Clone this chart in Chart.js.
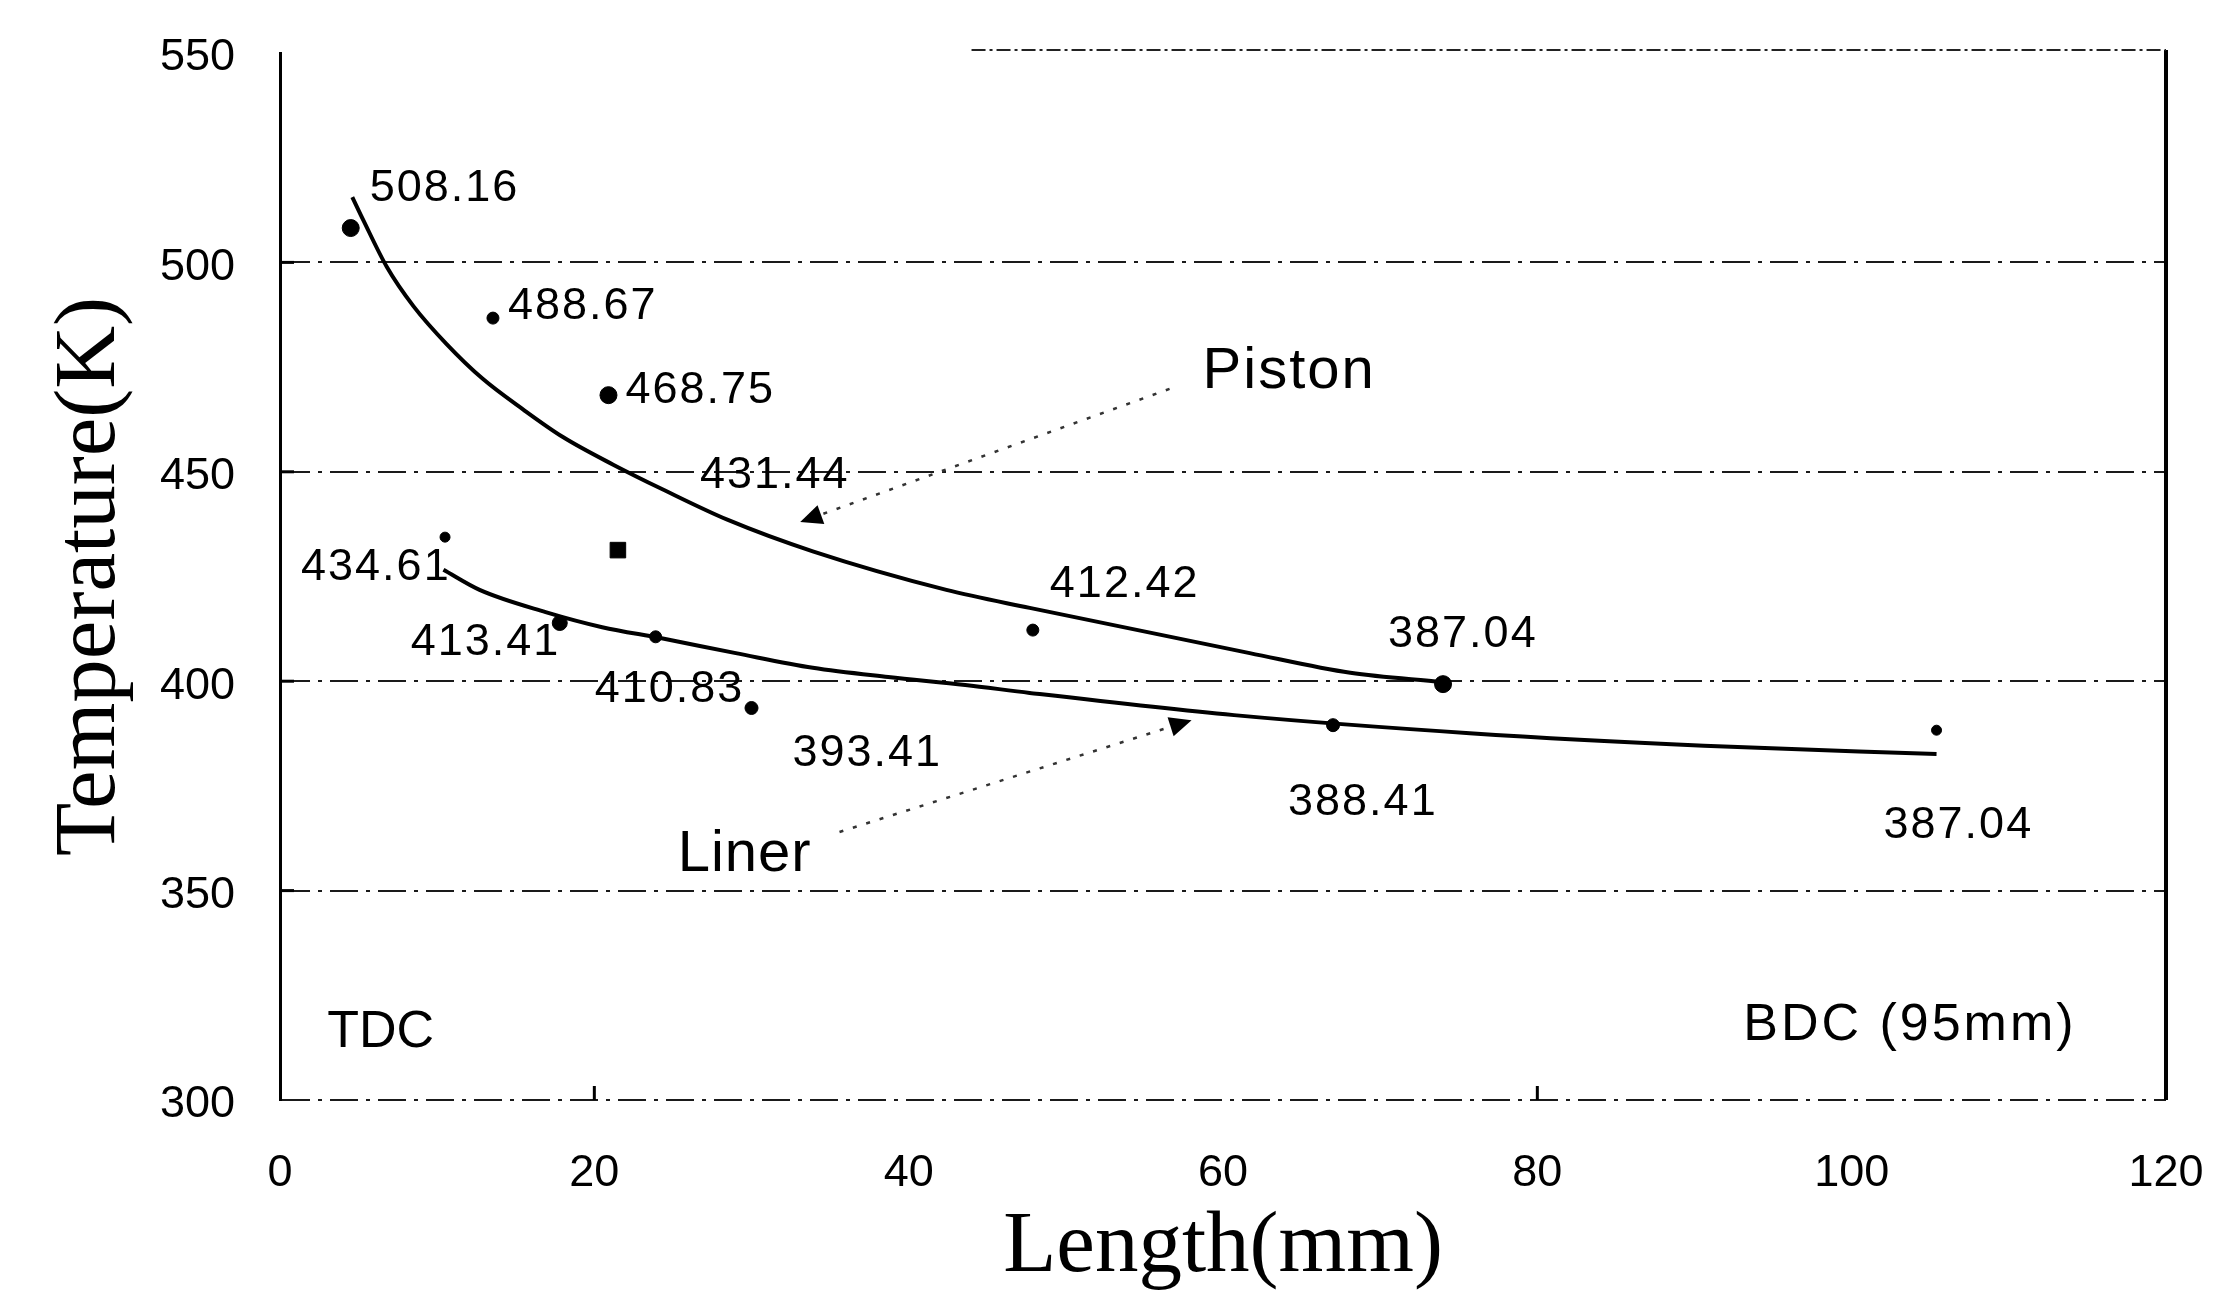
<!DOCTYPE html>
<html>
<head>
<meta charset="utf-8">
<script src="https://cdn.jsdelivr.net/npm/chart.js@4/dist/chart.umd.min.js"></script>
<style>
  html, body { margin: 0; padding: 0; background: #fff; overflow: hidden; }
  #wrap { width: 2229px; height: 1302px; position: relative; }
  canvas { display: block; }
</style>
</head>
<body>
<div id="wrap"><canvas id="c"></canvas></div>
<script>
// ---- data ----
const pistonLength = [4.5, 13.55, 20.9, 21.5, 47.9, 74.0];
const pistonTemp   = [508.2, 486.7, 468.3, 431.3, 412.2, 399.3];
const pistonLabels = ['508.16', '488.67', '468.75', '431.44', '412.42', '387.04'];

const linerLength = [10.5, 17.8, 23.9, 30.0, 67.0, 105.4];
const linerTemp   = [434.4, 413.9, 410.6, 393.6, 389.5, 388.3];
const linerLabels = ['434.61', '413.41', '410.83', '393.41', '388.41', '387.04'];

const pistonFitLength = [4.6, 5.3, 6.8, 8.5, 10.6, 12.9, 15.5, 18.0, 21.2, 24.4, 28.5, 33.9, 42.4, 47.7, 61.7, 68.1, 73.9];
const pistonFitTemp   = [515.6, 510.1, 498.9, 489.5, 480.5, 472.2, 464.8, 458.3, 451.7, 445.7, 438.5, 431.0, 421.8, 417.5, 406.7, 402.0, 399.8];

const linerFitLength = [10.4, 12.7, 16.9, 20.5, 24.2, 29.0, 33.9, 38.7, 43.6, 47.7, 60.7, 75.7, 90.6, 105.4];
const linerFitTemp   = [426.6, 421.8, 416.5, 412.9, 410.3, 406.7, 403.2, 401.0, 399.1, 397.2, 391.9, 387.6, 384.6, 382.6];

const xTickValues = [0, 20, 40, 60, 80, 100, 120];
const yTickValues = [300, 350, 400, 450, 500, 550];
const xSmallMarks = [20, 80];

// ---- styling / annotation config (not data) ----
const pistonLabelOffsets = [[19, -39], [15, -12], [17, -5], [82, -75], [17, -46], [-55, -50]];
const linerLabelOffsets  = [[-144, 30], [-149, 20], [-61, 53], [41, 46], [-45, 77], [-53, 95]];
const pistonRadius = [8.5, 6, 8.5, 11, 6, 8.5];
const pistonStyle  = ['circle', 'circle', 'circle', 'rect', 'circle', 'circle'];
const linerRadius  = [5, 7.5, 6, 6.5, 6.5, 5];

const arrows = [
  { from: [56.6, 469.8], to: [33.1, 438.0] },
  { from: [35.6, 364.0], to: [58.0, 390.7] }
];
const texts = [
  { text: 'Piston',      at: [58.7, 473.8], size: 58, spacing: 2 },
  { text: 'Liner',       at: [25.3, 358.5], size: 58, spacing: 1 },
  { text: 'TDC',         at: [3.0, 316.0],  size: 52, spacing: 0 },
  { text: 'BDC (95mm)',  at: [93.1, 317.7], size: 52, spacing: 3 }
];

const toXY = (xs, ys) => xs.map((v, i) => ({ x: v, y: ys[i] }));

const overlay = {
  id: 'overlay',
  afterDraw(chart) {
    const { ctx, chartArea: a } = chart;
    const x = chart.scales.x, y = chart.scales.y;
    ctx.save();
    // right border
    ctx.strokeStyle = '#000';
    ctx.lineWidth = 4;
    ctx.setLineDash([]);
    ctx.beginPath();
    ctx.moveTo(a.right, a.top - 3);
    ctx.lineTo(a.right, a.bottom);
    ctx.stroke();
    // partial top border
    ctx.lineWidth = 2;
    ctx.strokeStyle = '#222';
    ctx.setLineDash([14, 4, 3, 4]);
    ctx.beginPath();
    ctx.moveTo(x.getPixelForValue(44), a.top - 3);
    ctx.lineTo(a.right, a.top - 3);
    ctx.stroke();
    // short inner ticks on axes
    ctx.setLineDash([]);
    ctx.lineWidth = 3;
    ctx.strokeStyle = '#000';
    yTickValues.forEach(v => {
      if (v === 300 || v === 550) return;
      const py = y.getPixelForValue(v);
      ctx.beginPath(); ctx.moveTo(a.left, py); ctx.lineTo(a.left + 14, py); ctx.stroke();
    });
    xSmallMarks.forEach(v => {
      const px = x.getPixelForValue(v);
      ctx.beginPath(); ctx.moveTo(px, a.bottom); ctx.lineTo(px, a.bottom - 14); ctx.stroke();
    });
    // point labels
    ctx.fillStyle = '#000';
    ctx.textAlign = 'left';
    ctx.textBaseline = 'middle';
    ctx.font = '45px "Liberation Sans"';
    ctx.letterSpacing = '2px';
    chart.data.datasets.forEach((ds, i) => {
      if (!ds.pointLabels) return;
      const meta = chart.getDatasetMeta(i);
      meta.data.forEach((pt, j) => {
        const off = ds.pointLabelOffsets[j];
        ctx.fillText(ds.pointLabels[j], pt.x + off[0], pt.y + off[1]);
      });
    });
    // arrows
    arrows.forEach(ar => {
      const x1 = x.getPixelForValue(ar.from[0]), y1 = y.getPixelForValue(ar.from[1]);
      const x2 = x.getPixelForValue(ar.to[0]),   y2 = y.getPixelForValue(ar.to[1]);
      const ang = Math.atan2(y2 - y1, x2 - x1);
      ctx.strokeStyle = '#333';
      ctx.lineWidth = 2.5;
      ctx.setLineDash([4, 10]);
      ctx.beginPath();
      ctx.moveTo(x1, y1);
      ctx.lineTo(x2 - 18 * Math.cos(ang), y2 - 18 * Math.sin(ang));
      ctx.stroke();
      ctx.setLineDash([]);
      ctx.fillStyle = '#000';
      ctx.beginPath();
      ctx.moveTo(x2, y2);
      ctx.lineTo(x2 - 22 * Math.cos(ang) + 10 * Math.sin(ang), y2 - 22 * Math.sin(ang) - 10 * Math.cos(ang));
      ctx.lineTo(x2 - 22 * Math.cos(ang) - 10 * Math.sin(ang), y2 - 22 * Math.sin(ang) + 10 * Math.cos(ang));
      ctx.closePath();
      ctx.fill();
    });
    // free texts
    texts.forEach(t => {
      ctx.font = t.size + 'px "Liberation Sans"';
      ctx.letterSpacing = t.spacing + 'px';
      ctx.fillStyle = '#000';
      ctx.fillText(t.text, x.getPixelForValue(t.at[0]), y.getPixelForValue(t.at[1]));
    });
    ctx.restore();
  }
};

new Chart(document.getElementById('c'), {
  type: 'scatter',
  data: {
    datasets: [
      {
        label: 'Piston fit',
        data: toXY(pistonFitLength, pistonFitTemp),
        showLine: true,
        borderColor: '#000',
        borderWidth: 4,
        pointRadius: 0,
        cubicInterpolationMode: 'monotone'
      },
      {
        label: 'Liner fit',
        data: toXY(linerFitLength, linerFitTemp),
        showLine: true,
        borderColor: '#000',
        borderWidth: 4,
        pointRadius: 0,
        cubicInterpolationMode: 'monotone'
      },
      {
        label: 'Piston',
        data: toXY(pistonLength, pistonTemp),
        backgroundColor: '#000',
        borderColor: '#000',
        pointRadius: pistonRadius,
        pointStyle: pistonStyle,
        pointLabels: pistonLabels,
        pointLabelOffsets: pistonLabelOffsets
      },
      {
        label: 'Liner',
        data: toXY(linerLength, linerTemp),
        backgroundColor: '#000',
        borderColor: '#000',
        pointRadius: linerRadius,
        pointLabels: linerLabels,
        pointLabelOffsets: linerLabelOffsets
      }
    ]
  },
  options: {
    responsive: true,
    maintainAspectRatio: false,
    devicePixelRatio: 1,
    animation: false,
    layout: { padding: { top: 53, right: 63, bottom: 0, left: 0 } },
    plugins: {
      legend: { display: false },
      tooltip: { enabled: false }
    },
    scales: {
      x: {
        type: 'linear',
        position: 'bottom',
        min: 0,
        max: 120,
        afterBuildTicks: s => { s.ticks = xTickValues.map(v => ({ value: v })); },
        afterFit: s => { s.height = 202; s.paddingLeft = 0; s.paddingRight = 0; s.paddingTop = 0; s.paddingBottom = 0; },
        grid: { display: false, drawTicks: false },
        border: { display: false },
        ticks: {
          color: '#000',
          padding: 47,
          font: { family: 'Liberation Sans', size: 45 }
        },
        title: {
          display: true,
          text: 'Length(mm)',
          color: '#000',
          font: { family: 'Liberation Serif', size: 87, lineHeight: 1 },
          padding: { top: 0, bottom: 10 }
        }
      },
      y: {
        type: 'linear',
        min: 300,
        max: 550,
        afterBuildTicks: s => { s.ticks = yTickValues.map(v => ({ value: v })); },
        afterFit: s => { s.width = 280; s.paddingLeft = 0; s.paddingRight = 0; s.paddingTop = 0; s.paddingBottom = 0; },
        grid: {
          drawTicks: false,
          lineWidth: 2,
          color: c => (c.tick && c.tick.value === 550) ? 'rgba(0,0,0,0)' : '#1a1a1a'
        },
        border: { display: true, color: '#000', width: 3, dash: [28, 8, 4, 8] },
        ticks: {
          color: '#000',
          padding: 45,
          labelOffset: 5,
          font: { family: 'Liberation Sans', size: 45 }
        },
        title: {
          display: true,
          text: 'Temperature(K)',
          color: '#000',
          font: { family: 'Liberation Serif', size: 87, lineHeight: 1 },
          padding: { top: 48, bottom: 0 }
        }
      }
    }
  },
  plugins: [overlay]
});
</script>
</body>
</html>
